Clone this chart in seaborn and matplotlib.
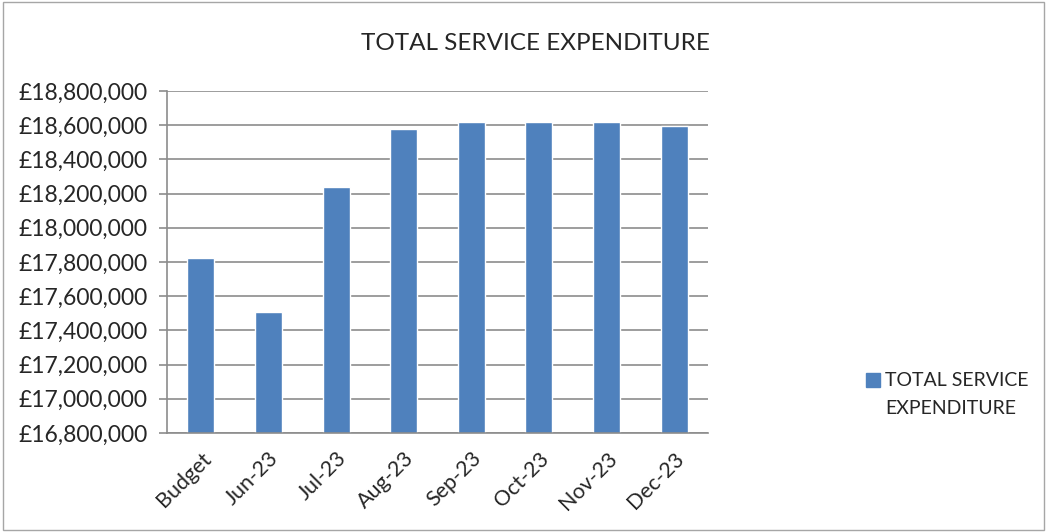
import numpy as np
import pandas as pd
import matplotlib
matplotlib.use("Agg")
import matplotlib.pyplot as plt
import seaborn as sns
from matplotlib.ticker import FuncFormatter, FixedLocator
from matplotlib.patches import Rectangle

# Data
months = ["Budget", "Jun-23", "Jul-23", "Aug-23", "Sep-23", "Oct-23", "Nov-23", "Dec-23"]
expenditure = [17826000, 17507000, 18241000, 18576000, 18621000, 18621000, 18621000, 18598000]
series_name = "TOTAL SERVICE EXPENDITURE"

df = pd.DataFrame({"Month": months, "Value": expenditure, "Series": series_name})

sns.set_style("white")
plt.rcParams["font.family"] = ["Lato", "DejaVu Sans"]

fig = plt.figure(figsize=(10.47, 5.32), dpi=100)
ax = fig.add_axes([167 / 1047, 1 - 433 / 532, 541 / 1047, 342 / 532])

sns.barplot(data=df, x="Month", y="Value", hue="Series", palette=["#4F81BD"],
            width=0.4, saturation=1, ax=ax, legend=False)

ax.set_ylim(16800000, 18800000)
ax.set_xlim(-0.5, len(months) - 0.5)
ax.yaxis.set_major_locator(FixedLocator(np.arange(16800000, 18800001, 200000)))
ax.yaxis.set_major_formatter(FuncFormatter(lambda v, p: f"£{v:,.0f}"))
ax.grid(axis="y", color="#8c8c8c", linewidth=1.2)
ax.set_axisbelow(True)

ax.set_xticks(range(len(months)))
ax.set_xticklabels(months, rotation=45, ha="right", rotation_mode="anchor", fontsize=15.5)
ax.xaxis.set_minor_locator(FixedLocator(np.arange(-0.5, len(months), 1)))
ax.tick_params(axis="x", which="major", length=0, pad=11)
ax.tick_params(axis="x", which="minor", length=6, color="#8c8c8c", width=1.2)
ax.tick_params(axis="y", length=6, color="#8c8c8c", width=1.2, labelsize=16.5, pad=8, left=True)

for side in ["top", "right"]:
    ax.spines[side].set_visible(False)
for side in ["left", "bottom"]:
    ax.spines[side].set_color("#8c8c8c")
    ax.spines[side].set_linewidth(1.2)

ax.set_xlabel("")
ax.set_ylabel("")

fig.text(0.511, 1 - 44 / 532, "TOTAL SERVICE EXPENDITURE", ha="center", va="center", fontsize=17.5)

# legend: first line with the swatch, second line as text below it
handle = Rectangle((0, 0), 1, 1, color="#4F81BD")
leg = fig.legend([handle], ["TOTAL SERVICE"], loc="center left",
                 bbox_to_anchor=(848 / 1047, 1 - 381 / 532), frameon=False, fontsize=14,
                 handlelength=0.75, handleheight=0.75, handletextpad=0.25)
fig.canvas.draw()
bb = leg.get_texts()[0].get_window_extent().transformed(fig.transFigure.inverted())
fig.text(bb.x0, 1 - 409 / 532, "EXPENDITURE", ha="left", va="center", fontsize=14)

# chart border
fig.patches.append(Rectangle((0.003, 0.003), 0.994, 0.994, transform=fig.transFigure,
                             fill=False, edgecolor="#a6a6a6", linewidth=1))

fig.savefig("out.png", dpi=100)
